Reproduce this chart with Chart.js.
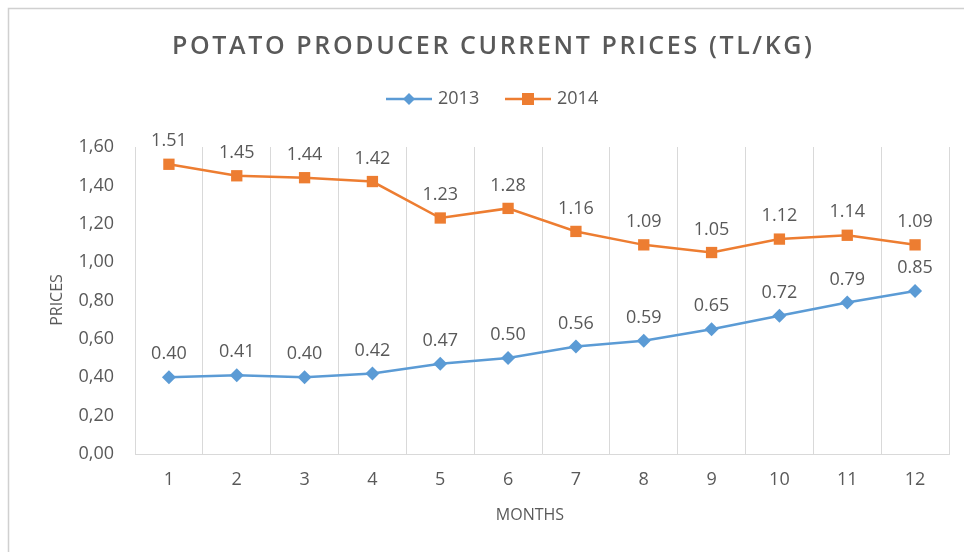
<!DOCTYPE html>
<html>
<head>
<meta charset="utf-8">
<title>Potato producer current prices</title>
<script src="https://cdn.jsdelivr.net/npm/chart.js@4.4.1/dist/chart.umd.min.js"></script>
<style>
  html, body { margin: 0; padding: 0; background: #fff; }
  #wrap { width: 964px; height: 552px; position: relative; }
</style>
</head>
<body>
<div id="wrap"><canvas id="myChart"></canvas></div>
<script>
'use strict';

// data
const months = ['1', '2', '3', '4', '5', '6', '7', '8', '9', '10', '11', '12'];
const prices2013 = [0.40, 0.41, 0.40, 0.42, 0.47, 0.50, 0.56, 0.59, 0.65, 0.72, 0.79, 0.85];
const prices2014 = [1.51, 1.45, 1.44, 1.42, 1.23, 1.28, 1.16, 1.09, 1.05, 1.12, 1.14, 1.09];
const seriesNames = ['2013', '2014'];

const titleText = 'POTATO PRODUCER CURRENT PRICES (TL/KG)';
const xTitle = 'MONTHS';
const yTitle = 'PRICES';

const blue = '#5B9BD5';
const orange = '#ED7D31';
const textGray = '#595959';
const gridGray = '#D9D9D9';
const font = '"Open Sans", "DejaVu Sans", sans-serif';

function drawMarker(ctx, style, x, y, r, color) {
  ctx.fillStyle = color;
  ctx.beginPath();
  if (style === 'rectRot') {
    ctx.moveTo(x, y - r);
    ctx.lineTo(x + r, y);
    ctx.lineTo(x, y + r);
    ctx.lineTo(x - r, y);
    ctx.closePath();
  } else {
    ctx.rect(x - r, y - r, r * 2, r * 2);
  }
  ctx.fill();
}

// title, legend, axis titles and value labels
const extras = {
  id: 'extras',
  beforeDraw(chart) {
    const ctx = chart.ctx;
    ctx.save();
    ctx.fillStyle = '#fff';
    ctx.fillRect(0, 0, chart.width, chart.height);
    ctx.strokeStyle = '#D0D0D0';
    ctx.lineWidth = 1.5;
    ctx.strokeRect(8.5, 8.5, chart.width + 20, chart.height + 20);
    ctx.restore();
  },
  afterDatasetsDraw(chart) {
    const ctx = chart.ctx;
    ctx.save();
    ctx.font = '18px ' + font;
    ctx.fillStyle = textGray;
    ctx.textAlign = 'center';
    ctx.textBaseline = 'middle';
    chart.data.datasets.forEach((ds, i) => {
      chart.getDatasetMeta(i).data.forEach((pt, j) => {
        ctx.fillText(ds.data[j].toFixed(2), pt.x, pt.y - 23);
      });
    });
    ctx.restore();
  },
  afterDraw(chart) {
    const ctx = chart.ctx;
    ctx.save();
    ctx.fillStyle = textGray;
    ctx.textBaseline = 'middle';

    // title, spread out to the width it has in the picture
    ctx.font = '600 25px ' + font;
    ctx.textAlign = 'left';
    const plainW = ctx.measureText(titleText).width;
    const spacing = Math.max(0, (640 - plainW) / (titleText.length - 1));
    ctx.letterSpacing = spacing + 'px';
    ctx.fillText(titleText, 172, 47);
    ctx.letterSpacing = '0px';

    // legend
    ctx.font = '18px ' + font;
    const legend = [
      { x: 386, color: blue, style: 'rectRot', r: 6 },
      { x: 505, color: orange, style: 'rect', r: 6 }
    ];
    legend.forEach((item, i) => {
      ctx.strokeStyle = item.color;
      ctx.lineWidth = 2.5;
      ctx.beginPath();
      ctx.moveTo(item.x, 99);
      ctx.lineTo(item.x + 46, 99);
      ctx.stroke();
      drawMarker(ctx, item.style, item.x + 23, 99, item.r, item.color);
      ctx.fillStyle = textGray;
      ctx.fillText(seriesNames[i], item.x + 52, 99);
    });

    // axis titles
    ctx.font = '16px ' + font;
    ctx.textAlign = 'center';
    ctx.fillText(xTitle, 530, 515);
    ctx.translate(57, 300);
    ctx.rotate(-Math.PI / 2);
    ctx.fillText(yTitle, 0, 0);
    ctx.restore();
  }
};

const config = {
  type: 'line',
  data: {
    labels: months,
    datasets: [
      {
        label: seriesNames[0],
        data: prices2013,
        borderColor: blue,
        backgroundColor: blue,
        borderWidth: 2.5,
        pointStyle: 'rectRot',
        pointRadius: 7,
        pointBorderWidth: 0,
        tension: 0
      },
      {
        label: seriesNames[1],
        data: prices2014,
        borderColor: orange,
        backgroundColor: orange,
        borderWidth: 2.5,
        pointStyle: 'rect',
        pointRadius: 8,
        pointBorderWidth: 0,
        tension: 0
      }
    ]
  },
  options: {
    responsive: true,
    maintainAspectRatio: false,
    animation: false,
    layout: { padding: { top: 147, right: 15, left: 0, bottom: 0 } },
    plugins: {
      legend: { display: false },
      title: { display: false },
      tooltip: { enabled: false }
    },
    scales: {
      x: {
        offset: true,
        grid: { offset: true, color: gridGray, drawTicks: false, lineWidth: 1 },
        border: { display: true, color: gridGray, width: 1 },
        ticks: { color: textGray, font: { family: font, size: 18 }, padding: 15 },
        afterFit(scale) { scale.height = 98; }
      },
      y: {
        min: 0,
        max: 1.6,
        grid: { display: false, drawTicks: false },
        border: { display: false },
        ticks: {
          stepSize: 0.2,
          color: textGray,
          font: { family: font, size: 18 },
          padding: 21,
          callback: (v) => v.toFixed(2).replace('.', ',')
        },
        afterFit(scale) { scale.width = 135; }
      }
    }
  },
  plugins: [extras]
};

let canvasChart = document.getElementById('myChart').getContext('2d');
const myChart = new Chart(canvasChart, config);
</script>
</body>
</html>
